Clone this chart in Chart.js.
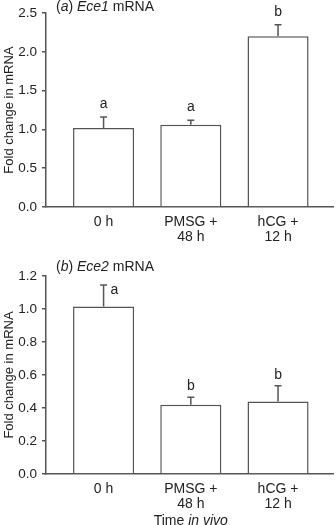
<!DOCTYPE html>
<html>
<head>
<meta charset="utf-8">
<script src="https://cdn.jsdelivr.net/npm/chart.js@4/dist/chart.umd.min.js"></script>
<style>
  html, body { margin: 0; padding: 0; background: #fff; }
  canvas { display: block; }
</style>
</head>
<body>
<canvas id="chartA" width="336" height="250"></canvas>
<canvas id="chartB" width="336" height="275"></canvas>
<script>
// categories (multi-line tick labels)
const timePoints = [['0 h'], ['PMSG +', '48 h'], ['hCG +', '12 h']];

// (a) Ece1 mRNA
const ece1Mean = [1.02, 1.06, 2.20];
const ece1Err = [0.14, 0.06, 0.15];
const ece1Letters = ['a', 'a', 'b'];

// (b) Ece2 mRNA
const ece2Mean = [1.015, 0.42, 0.44];
const ece2Err = [0.13, 0.045, 0.095];
const ece2Letters = ['a', 'b', 'b'];

const ink = '#222';
const lineGrey = '#555';
const fontFamily = '"Liberation Sans", Arial, sans-serif';
const textSize = 14;

Chart.defaults.font.family = fontFamily;
Chart.defaults.color = ink;

// draws error bars, significance letters, the panel title and an optional x title
const annotatePlugin = {
    id: 'annotate',
    afterDatasetsDraw(chart, args, opts) {
        const { ctx } = chart;
        const meta = chart.getDatasetMeta(0);
        const yScale = chart.scales.y;
        ctx.save();
        ctx.strokeStyle = lineGrey;
        ctx.lineWidth = 1.5;
        ctx.font = textSize + 'px ' + fontFamily;
        ctx.fillStyle = ink;
        ctx.textBaseline = 'middle';
        meta.data.forEach((bar, i) => {
            const top = yScale.getPixelForValue(opts.means[i] + opts.errs[i]);
            const x = bar.x;
            ctx.beginPath();
            ctx.moveTo(x, bar.y);
            ctx.lineTo(x, top);
            ctx.moveTo(x - 3.5, top);
            ctx.lineTo(x + 3.5, top);
            ctx.stroke();
            if (opts.letterSide[i] === 'right') {
                ctx.textAlign = 'left';
                ctx.fillText(opts.letters[i], x + 7, top + 5);
            } else {
                ctx.textAlign = 'center';
                ctx.fillText(opts.letters[i], x, top - opts.letterGap);
            }
        });
        ctx.restore();
    },
    afterDraw(chart, args, opts) {
        const { ctx } = chart;
        const drawSegs = (segs, x, y) => {
            segs.forEach(seg => {
                ctx.font = (seg.i ? 'italic ' : '') + textSize + 'px ' + fontFamily;
                ctx.fillText(seg.t, x, y);
                x += ctx.measureText(seg.t).width;
            });
        };
        ctx.save();
        ctx.fillStyle = ink;
        ctx.textBaseline = 'middle';
        ctx.textAlign = 'left';
        drawSegs(opts.title, opts.titleX, opts.titleY);
        if (opts.xTitle) {
            let w = 0;
            opts.xTitle.forEach(seg => {
                ctx.font = (seg.i ? 'italic ' : '') + textSize + 'px ' + fontFamily;
                w += ctx.measureText(seg.t).width;
            });
            drawSegs(opts.xTitle, chart.scales.x.getPixelForValue(1) - w / 2, opts.xTitleY);
        }
        ctx.restore();
    }
};

function makeChart(id, means, errs, letters, cfg) {
    return new Chart(document.getElementById(id), {
        type: 'bar',
        data: {
            datasets: [{
                data: means.map((v, i) => ({ x: i, y: v })),
                backgroundColor: '#fff',
                borderColor: lineGrey,
                borderWidth: 1.5,
                barPercentage: 1,
                categoryPercentage: 0.7
            }]
        },
        options: {
            responsive: false,
            animation: false,
            layout: { padding: { top: cfg.padTop, right: 3, left: 0, bottom: 0 } },
            plugins: {
                legend: { display: false },
                tooltip: { enabled: false },
                annotate: {
                    means: means,
                    errs: errs,
                    letters: letters,
                    letterSide: cfg.letterSide,
                    letterGap: cfg.letterGap,
                    title: cfg.title,
                    titleX: 56,
                    titleY: cfg.titleY,
                    xTitle: cfg.xTitle,
                    xTitleY: cfg.xTitleY
                }
            },
            scales: {
                x: {
                    type: 'linear',
                    min: -0.66,
                    max: 2.63,
                    offset: false,
                    grid: { display: false, drawTicks: false },
                    border: { display: true, color: lineGrey, width: 1.5 },
                    afterBuildTicks: s => { s.ticks = timePoints.map((_, i) => ({ value: i })); },
                    afterFit: s => { s.height = cfg.xHeight; },
                    ticks: {
                        autoSkip: false,
                        maxRotation: 0,
                        minRotation: 0,
                        padding: 7,
                        color: ink,
                        font: { size: textSize, lineHeight: 1.1 },
                        callback: v => timePoints[Math.round(v)]
                    }
                },
                y: {
                    min: 0,
                    max: cfg.yMax,
                    afterFit: s => { s.width = 46; },
                    grid: { drawOnChartArea: false, drawTicks: true, tickLength: 4, color: lineGrey, lineWidth: 1.5 },
                    border: { display: true, color: lineGrey, width: 1.5 },
                    ticks: {
                        stepSize: cfg.step,
                        padding: 5,
                        color: ink,
                        font: { size: 13.5 },
                        callback: v => v.toFixed(1)
                    },
                    title: {
                        display: true,
                        text: 'Fold change in mRNA',
                        color: ink,
                        font: { size: 13 },
                        padding: { top: 2, bottom: 0 }
                    }
                }
            }
        },
        plugins: [annotatePlugin]
    });
}

makeChart('chartA', ece1Mean, ece1Err, ece1Letters, {
    padTop: 10,
    xHeight: 43,
    yMax: 2.5,
    step: 0.5,
    letterSide: ['top', 'top', 'top'],
    letterGap: 13,
    title: [{ t: '(' }, { t: 'a', i: true }, { t: ') ' }, { t: 'Ece1', i: true }, { t: ' mRNA' }],
    titleY: 7
});

makeChart('chartB', ece2Mean, ece2Err, ece2Letters, {
    padTop: 26,
    xHeight: 51,
    yMax: 1.2,
    step: 0.2,
    letterSide: ['right', 'top', 'top'],
    letterGap: 11,
    title: [{ t: '(' }, { t: 'b', i: true }, { t: ') ' }, { t: 'Ece2', i: true }, { t: ' mRNA' }],
    titleY: 17,
    xTitle: [{ t: 'Time ' }, { t: 'in vivo', i: true }],
    xTitleY: 271.5
});
</script>
</body>
</html>
